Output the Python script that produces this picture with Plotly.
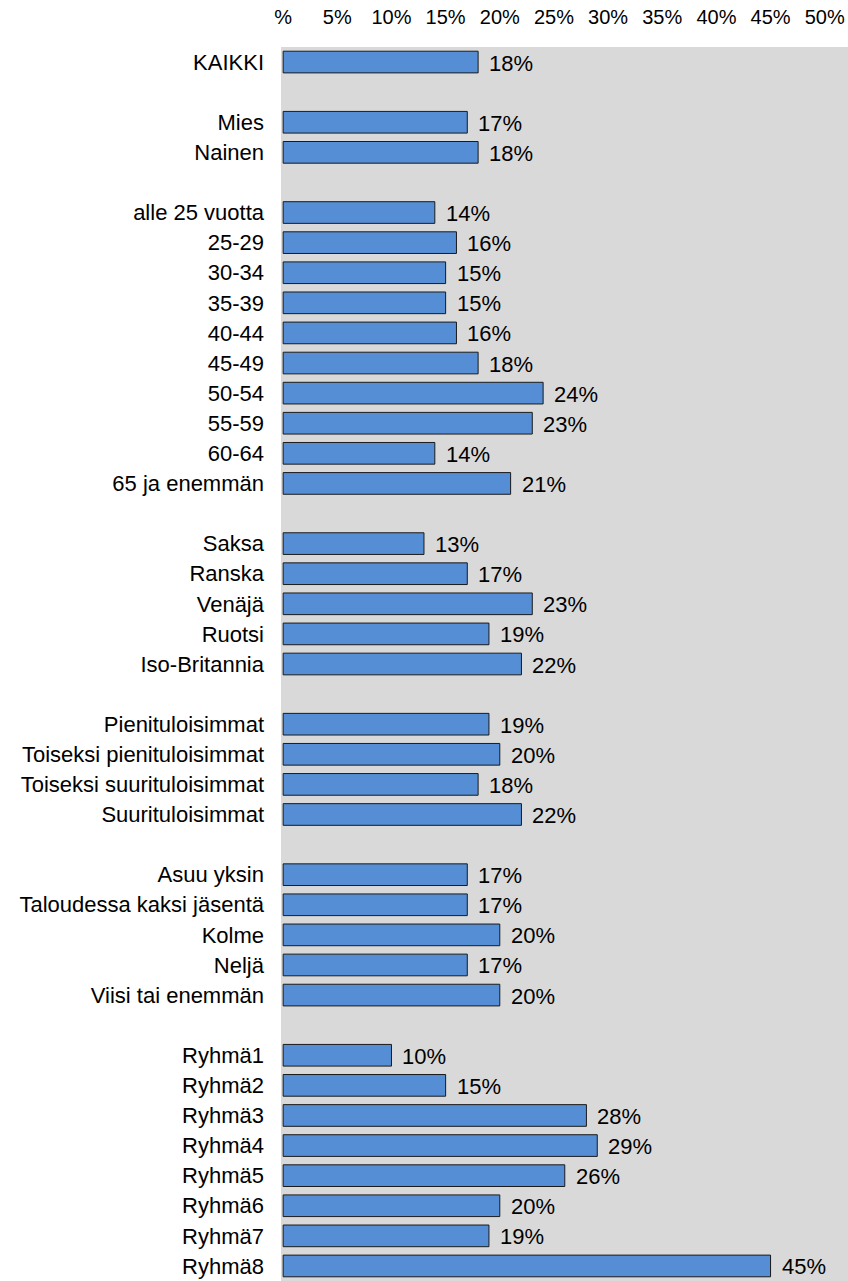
import plotly.graph_objects as go

# Survey shares (%) by respondent group
kaikki = ["KAIKKI"]
kaikki_val = [18]

sukupuoli = ["Mies", "Nainen"]
sukupuoli_val = [17, 18]

ika = ["alle 25 vuotta", "25-29", "30-34", "35-39", "40-44", "45-49",
       "50-54", "55-59", "60-64", "65 ja enemmän"]
ika_val = [14, 16, 15, 15, 16, 18, 24, 23, 14, 21]

maa = ["Saksa", "Ranska", "Venäjä", "Ruotsi", "Iso-Britannia"]
maa_val = [13, 17, 23, 19, 22]

tulot = ["Pienituloisimmat", "Toiseksi pienituloisimmat",
         "Toiseksi suurituloisimmat", "Suurituloisimmat"]
tulot_val = [19, 20, 18, 22]

talous = ["Asuu yksin", "Taloudessa kaksi jäsentä", "Kolme", "Neljä",
          "Viisi tai enemmän"]
talous_val = [17, 17, 20, 17, 20]

ryhma = ["Ryhmä1", "Ryhmä2", "Ryhmä3", "Ryhmä4", "Ryhmä5", "Ryhmä6",
         "Ryhmä7", "Ryhmä8"]
ryhma_val = [10, 15, 28, 29, 26, 20, 19, 45]

x_ticks = [0, 5, 10, 15, 20, 25, 30, 35, 40, 45, 50]
x_ticktext = ["%", "5%", "10%", "15%", "20%", "25%", "30%", "35%", "40%", "45%", "50%"]

groups = [
    (kaikki, kaikki_val),
    (sukupuoli, sukupuoli_val),
    (ika, ika_val),
    (maa, maa_val),
    (tulot, tulot_val),
    (talous, talous_val),
    (ryhma, ryhma_val),
]

# Category order with empty spacer rows between groups
order, cats, vals = [], [], []
for i, (names, values) in enumerate(groups):
    if i:
        order.append(" " * i)
    order += names
    cats += names
    vals += values

FONT = "Liberation Sans, Arial, sans-serif"

fig = go.Figure(
    go.Bar(
        x=vals,
        y=cats,
        orientation="h",
        width=0.72,
        marker=dict(color="#558ed5", line=dict(color="#1a1a1a", width=1)),
        hoverinfo="skip",
    )
)

for c, v in zip(cats, vals):
    fig.add_annotation(
        x=v, y=c, text=f"{v}%", showarrow=False,
        xanchor="left", yanchor="middle", xshift=9, yshift=-1,
        font=dict(family=FONT, size=22, color="#000000"),
    )

fig.update_layout(
    width=848,
    height=1281,
    margin=dict(l=281, r=0, t=47, b=0),
    paper_bgcolor="#ffffff",
    plot_bgcolor="#d9d9d9",
    showlegend=False,
    font=dict(family=FONT, size=22, color="#000000"),
    xaxis=dict(
        side="top",
        range=[-0.2, 52.15],
        tickvals=x_ticks,
        ticktext=x_ticktext,
        showgrid=False,
        zeroline=False,
        showline=False,
        ticks="",
        ticklabelstandoff=18,
        tickfont=dict(family=FONT, size=20, color="#000000"),
        fixedrange=True,
    ),
    yaxis=dict(
        type="category",
        categoryorder="array",
        categoryarray=order,
        range=[len(order) - 0.5, -0.5],
        showgrid=False,
        zeroline=False,
        showline=False,
        ticks="",
        ticklabelstandoff=16,
        tickfont=dict(family=FONT, size=22, color="#000000"),
        fixedrange=True,
    ),
)

fig.write_html("out.html")
